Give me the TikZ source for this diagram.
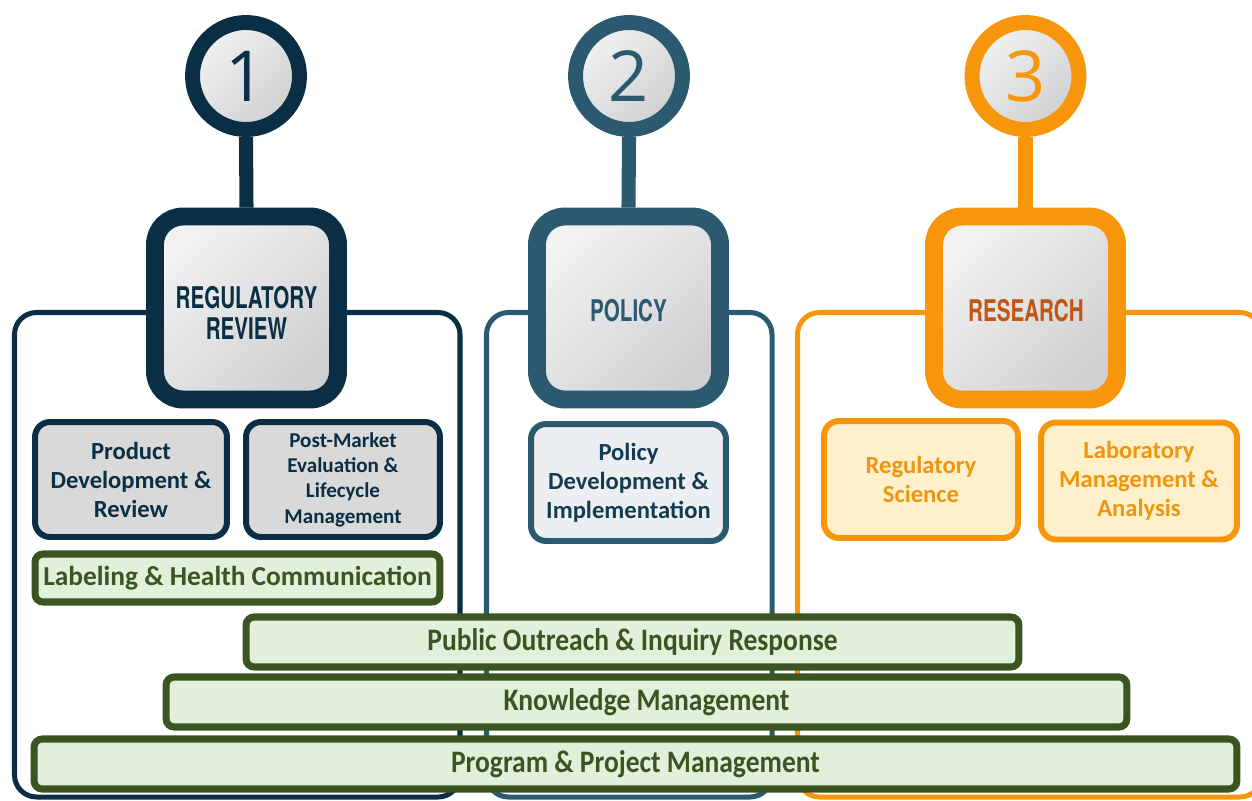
\documentclass[tikz,border=0pt]{standalone}
\usepackage{fontspec}
\setmainfont{Carlito}
\newfontfamily\titlefont[FakeStretch=0.69]{TeX Gyre Heros}
\newfontfamily\condfont[FakeStretch=0.88]{Carlito}
\newfontfamily\numfont{Open Sans}
\definecolor{navy}{HTML}{0A2E44}
\definecolor{slate}{HTML}{2B5970}
\definecolor{orng}{HTML}{F7960A}
\definecolor{rtext}{HTML}{C0560F}
\definecolor{otext}{HTML}{F0950E}
\definecolor{gline}{HTML}{3B5522}
\definecolor{gfill}{HTML}{E2EFDA}
\definecolor{gtext}{HTML}{3B5522}
\definecolor{subgray}{HTML}{D9D9DA}
\definecolor{subpol}{HTML}{ECEFF1}
\definecolor{subres}{HTML}{FFF0CC}
\definecolor{shA}{HTML}{F2F2F3}
\definecolor{shB}{HTML}{CFD0D2}
\tikzset{
  numcircle/.style={circle, draw=#1, line width=8.5pt, minimum size=2.14cm, inner sep=0pt,
     shade, top color=shA, bottom color=shB, shading angle=45},
  bigbox/.style={rectangle, rounded corners=0.56cm, draw=#1, line width=10.2pt,
     minimum width=3.66cm, minimum height=3.66cm, inner sep=0pt,
     shade, top color=shA, bottom color=shB, shading angle=45},
  titletext/.style={align=center, inner sep=0pt, font=\titlefont\bfseries\fontsize{17}{17.6}\selectfont},
  stem/.style={line width=8pt, draw=#1},
  frame/.style={line width=2.85pt, draw=#1, rounded corners=0.44cm},
  subbox/.style={rectangle, rounded corners=0.3cm, line width=3.4pt, inner sep=0pt, align=center},
  greenbar/.style={rectangle, rounded corners=0.16cm, draw=gline, fill=gfill, line width=4pt,
     minimum height=1.0cm, inner sep=0pt, text=gtext},
  bartext/.style={font=\condfont\bfseries\fontsize{17.8}{20}\selectfont},
}
\begin{document}
\begin{tikzpicture}[x=0.02cm,y=-0.02cm]
\useasboundingbox (0,0) rectangle (1252,801);
\clip (0,0) rectangle (1252,801);
% frames
\draw[frame=navy] (14.5,312.5) rectangle (460,797);
\draw[frame=slate] (486.5,312.5) rectangle (772,797);
\draw[frame=orng] (797.5,312.5) rectangle (1262,797);
% circles
\node[numcircle=navy] (c1) at (246,76) {\numfont\fontsize{40}{40}\selectfont\color{navy}1};
\node[numcircle=slate] (c2) at (629,76) {\numfont\fontsize{40}{40}\selectfont\color{slate}2};
\node[numcircle=orng] (c3) at (1025.5,76) {\numfont\fontsize{40}{40}\selectfont\color{orng}3};
% big boxes
\node[bigbox=navy] (b1) at (246.5,308) {};
\node[bigbox=slate] (b2) at (628.5,308) {};
\node[bigbox=orng] (b3) at (1025.5,308) {};
\node[titletext, text=navy] (t1) at (246.5,313) {REGULATORY\\REVIEW};
\node[titletext, text=slate] (t2) at (628.5,311) {POLICY};
\node[titletext, text=rtext] (t3) at (1026,311) {RESEARCH};
% stems
\draw[stem=navy] (c1.south) -- (b1.north);
\draw[stem=slate] (c2.south) -- (b2.north);
\draw[stem=orng] (c3.south) -- (b3.north);
% sub boxes
\node[subbox, draw=navy, fill=subgray, text=navy, minimum width=3.84cm, minimum height=2.3cm,
  font=\bfseries\fontsize{14}{16.5}\selectfont] (s1) at (131,479.5) {Product\\Development \&\\Review};
\node[subbox, draw=navy, fill=subgray, text=navy, minimum width=3.88cm, minimum height=2.3cm,
  font=\bfseries\fontsize{12}{14.4}\selectfont] (s2) at (343,479.5) {Post-Market\\Evaluation \&\\Lifecycle\\Management};
\node[subbox, draw=slate, fill=subpol, text=navy!70!slate, minimum width=3.9cm, minimum height=2.34cm,
  font=\bfseries\fontsize{14}{16.5}\selectfont] (s3) at (628.5,482.5) {Policy\\Development \&\\Implementation};
\node[subbox, draw=orng, fill=subres, text=otext, minimum width=3.88cm, minimum height=2.34cm,
  font=\bfseries\fontsize{14}{16.5}\selectfont] (s4) at (921,479.5) {Regulatory\\Science};
\node[subbox, draw=orng, fill=subres, text=otext, minimum width=3.92cm, minimum height=2.34cm,
  font=\bfseries\fontsize{14}{16.5}\selectfont] (s5) at (1139,481) {Laboratory\\Management \&\\Analysis};
% green bars
\node[greenbar, minimum width=8.1cm, minimum height=0.96cm, font=\bfseries\fontsize{15.6}{18}\selectfont] (g1) at (237.5,578) {Labeling \& Health Communication};
\node[greenbar, minimum width=15.46cm, bartext] (g2) at (632.5,642) {Public Outreach \& Inquiry Response};
\node[greenbar, minimum width=19.22cm, bartext] (g3) at (646.5,702) {Knowledge Management};
\node[greenbar, minimum width=24.06cm, bartext] (g4) at (635.5,764) {Program \& Project Management};
\end{tikzpicture}
\end{document}
